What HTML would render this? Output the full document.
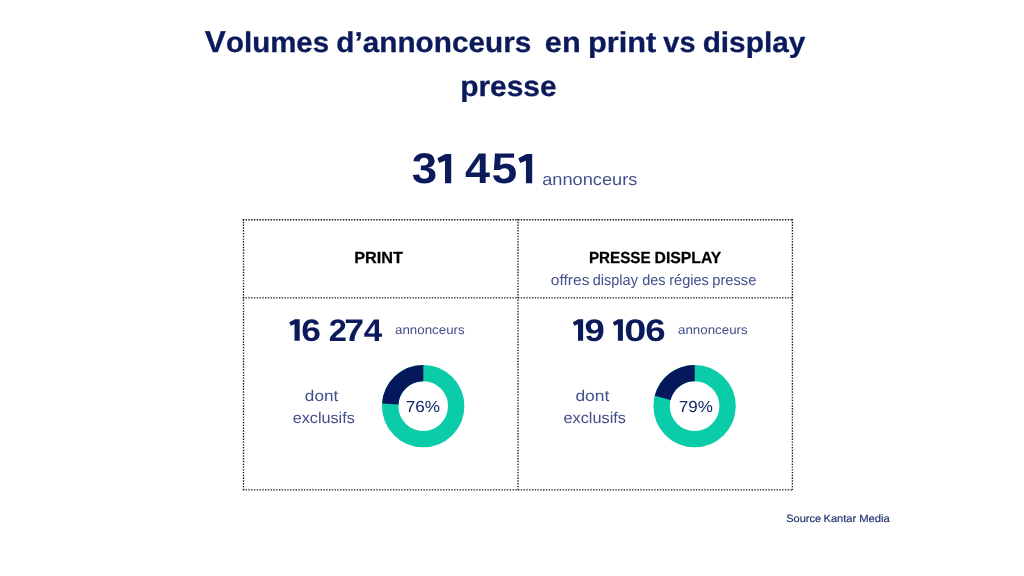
<!DOCTYPE html>
<html><head><meta charset="utf-8">
<style>
html,body{margin:0;padding:0;background:#fff;}
body{width:1024px;height:576px;position:relative;overflow:hidden;font-family:"Liberation Sans",sans-serif;}
.t{text-rendering:geometricPrecision;position:absolute;left:0;top:0;white-space:pre;line-height:1;margin:0;padding:0;transform-origin:0 0;}
.b{font-weight:bold;}
svg{position:absolute;left:0;top:0;}
#w{position:absolute;left:0;top:0;width:1024px;height:576px;will-change:transform;}
</style></head><body>
<div id="w">
<svg width="1024" height="576" viewBox="0 0 1024 576">
 <g stroke="#1a1a1a" stroke-width="1.35" stroke-dasharray="1.39 1.39" fill="none">
  <line x1="242.8" y1="219.7" x2="793.1" y2="219.7"/>
  <line x1="242.8" y1="297.9" x2="793.1" y2="297.9"/>
  <line x1="242.8" y1="489.9" x2="793.1" y2="489.9"/>
  <line x1="243.5" y1="219" x2="243.5" y2="490.6"/>
  <line x1="518" y1="219" x2="518" y2="490.6"/>
  <line x1="792.4" y1="219" x2="792.4" y2="490.6"/>
 </g>
 <!-- donut 1 -->
 <g transform="translate(423.2,406.1)">
  <circle r="33" fill="none" stroke="#0bcca8" stroke-width="16.4"/>
  <circle r="33" fill="none" stroke="#04185b" stroke-width="16.4" stroke-dasharray="49.76 1000" transform="rotate(-176.4)"/>
 </g>
 <g transform="translate(694.6,406.1)">
  <circle r="33" fill="none" stroke="#0bcca8" stroke-width="16.4"/>
  <circle r="33" fill="none" stroke="#04185b" stroke-width="16.4" stroke-dasharray="43.54 1000" transform="rotate(-165.6)"/>
 </g>
<g fill="#0b1a5b"><polygon points="437.40,158.19 445.40,154.00 451.20,154.00 451.20,183.30 444.99,183.30 444.99,160.80 439.19,162.91"/><polygon points="518.30,158.19 526.36,154.00 532.20,154.00 532.20,183.30 525.95,183.30 525.95,160.80 520.11,162.91"/><polygon points="289.30,322.36 294.81,319.30 299.70,319.30 299.70,340.70 294.50,340.70 294.50,324.26 290.65,325.81"/><polygon points="572.90,322.36 578.31,319.30 583.10,319.30 583.10,340.70 578.00,340.70 578.00,324.26 574.23,325.81"/><polygon points="612.90,322.36 618.20,319.30 622.90,319.30 622.90,340.70 617.90,340.70 617.90,324.26 614.20,325.81"/></g>
</svg>
<div id="t1v" class="t b" style="font-size:30.2px;color:#0b1a5b;-webkit-text-stroke:0.3px #0b1a5b;transform:translate(204.75px,28.40px) scaleX(1.0472);">V</div>
<div id="t1a" class="t b" style="font-size:28.6px;color:#0b1a5b;-webkit-text-stroke:0.3px #0b1a5b;transform:translate(226.05px,29.40px) scaleX(1.0289);">olumes</div>
<div id="t1b" class="t b" style="font-size:28.6px;color:#0b1a5b;-webkit-text-stroke:0.3px #0b1a5b;transform:translate(336.34px,29.40px) scaleX(1.0395);">d’annonceurs</div>
<div id="t1c" class="t b" style="font-size:28.6px;color:#0b1a5b;-webkit-text-stroke:0.3px #0b1a5b;transform:translate(544.87px,29.40px) scaleX(1.0729);">en</div>
<div id="t1d" class="t b" style="font-size:28.6px;color:#0b1a5b;-webkit-text-stroke:0.3px #0b1a5b;transform:translate(587.98px,29.40px) scaleX(1.0755);">print</div>
<div id="t1e" class="t b" style="font-size:28.6px;color:#0b1a5b;-webkit-text-stroke:0.3px #0b1a5b;transform:translate(663.34px,29.40px) scaleX(1.0088);">vs</div>
<div id="t1f" class="t b" style="font-size:28.6px;color:#0b1a5b;-webkit-text-stroke:0.3px #0b1a5b;transform:translate(702.63px,29.40px) scaleX(1.0420);">display</div>
<div id="t2" class="t b" style="font-size:28.6px;color:#0b1a5b;-webkit-text-stroke:0.3px #0b1a5b;transform:translate(460.18px,72.60px) scaleX(1.0458);">presse</div>
<div id="b3" class="t b" style="font-size:43px;color:#0b1a5b;transform:translate(411.72px,148.30px) scaleX(1.0622);">3</div>
<div id="b4" class="t b" style="font-size:43px;color:#0b1a5b;transform:translate(465.06px,148.30px) scaleX(1.0469);">4</div>
<div id="b5" class="t b" style="font-size:43px;color:#0b1a5b;transform:translate(491.41px,148.30px) scaleX(1.0765);">5</div>
<div id="ban" class="t" style="font-size:16.8px;color:#44528c;transform:translate(542.20px,171.60px) scaleX(1.0858);">annonceurs</div>
<div id="print" class="t b" style="font-size:16px;color:#000;-webkit-text-stroke:0.25px #000;transform:translate(354.17px,251.10px) scaleX(1.0167);">PRINT</div>
<div id="pd1" class="t b" style="font-size:16px;color:#000;-webkit-text-stroke:0.25px #000;transform:translate(588.97px,251.10px) scaleX(0.9498);">PRESSE</div>
<div id="pd2" class="t b" style="font-size:16px;color:#000;-webkit-text-stroke:0.25px #000;transform:translate(654.53px,251.10px) scaleX(0.9843);">DISPLAY</div>
<div id="o1" class="t" style="font-size:15px;color:#424f8a;transform:translate(550.76px,272.50px) scaleX(1.0404);">offres</div>
<div id="o2" class="t" style="font-size:15px;color:#424f8a;transform:translate(592.74px,272.50px) scaleX(0.9674);">display</div>
<div id="o3" class="t" style="font-size:15px;color:#424f8a;transform:translate(642.14px,272.50px) scaleX(0.9691);">des</div>
<div id="o4" class="t" style="font-size:15px;color:#424f8a;transform:translate(669.16px,272.50px) scaleX(0.9729);">régies</div>
<div id="o5" class="t" style="font-size:15px;color:#424f8a;transform:translate(712.26px,272.50px) scaleX(0.9779);">presse</div>
<div id="n6" class="t b" style="font-size:31.1px;color:#0b1a5b;transform:translate(301.28px,314.70px) scaleX(1.1389);">6</div>
<div id="n2" class="t b" style="font-size:31.1px;color:#0b1a5b;transform:translate(328.67px,314.70px) scaleX(1.0487);">2</div>
<div id="n7" class="t b" style="font-size:31.1px;color:#0b1a5b;transform:translate(344.34px,314.70px) scaleX(1.1474);">7</div>
<div id="n4" class="t b" style="font-size:31.1px;color:#0b1a5b;transform:translate(363.78px,314.70px) scaleX(1.0703);">4</div>
<div id="a1" class="t" style="font-size:12.5px;color:#424f8a;transform:translate(395.05px,323.70px) scaleX(1.0650);">annonceurs</div>
<div id="m9" class="t b" style="font-size:31.1px;color:#0b1a5b;transform:translate(584.59px,314.70px) scaleX(1.1727);">9</div>
<div id="m0" class="t b" style="font-size:31.1px;color:#0b1a5b;transform:translate(624.32px,314.70px) scaleX(1.2768);">0</div>
<div id="m6" class="t b" style="font-size:31.1px;color:#0b1a5b;transform:translate(645.33px,314.70px) scaleX(1.1792);">6</div>
<div id="a2" class="t" style="font-size:12.5px;color:#424f8a;transform:translate(678.05px,323.70px) scaleX(1.0650);">annonceurs</div>
<div id="d1" class="t" style="font-size:15.5px;color:#424f8a;transform:translate(304.86px,388.80px) scaleX(1.1064);">dont</div>
<div id="e1" class="t" style="font-size:15.5px;color:#424f8a;transform:translate(292.70px,410.90px) scaleX(1.0448);">exclusifs</div>
<div id="d2" class="t" style="font-size:15.5px;color:#424f8a;transform:translate(575.39px,388.80px) scaleX(1.1256);">dont</div>
<div id="e2" class="t" style="font-size:15.5px;color:#424f8a;transform:translate(563.47px,410.90px) scaleX(1.0509);">exclusifs</div>
<div id="p1" class="t" style="font-size:16px;color:#15256a;transform:translate(405.78px,399.80px) scaleX(1.0679);">76%</div>
<div id="p2" class="t" style="font-size:16px;color:#15256a;transform:translate(678.78px,399.80px) scaleX(1.0647);">79%</div>
<div id="s1" class="t" style="font-size:10.6px;color:#1f2f6b;-webkit-text-stroke:0.15px #1f2f6b;transform:translate(786.21px,514.20px) scaleX(1.0397);">Source</div>
<div id="s2" class="t" style="font-size:10.6px;color:#1f2f6b;-webkit-text-stroke:0.15px #1f2f6b;transform:translate(823.54px,514.20px) scaleX(1.0424);">Kantar</div>
<div id="s3" class="t" style="font-size:10.6px;color:#1f2f6b;-webkit-text-stroke:0.15px #1f2f6b;transform:translate(859.19px,514.20px) scaleX(1.0633);">Media</div>
</div>
</body></html>
